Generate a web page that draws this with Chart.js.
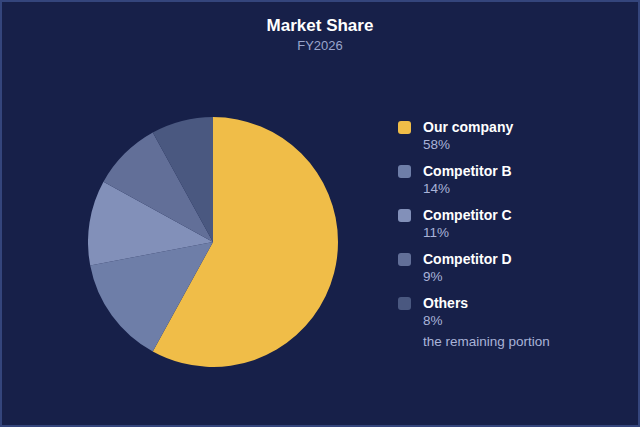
<!DOCTYPE html>
<html>
<head>
<meta charset="utf-8">
<script src="https://cdn.jsdelivr.net/npm/chart.js@4/dist/chart.umd.min.js"></script>
<style>
  html, body { margin: 0; padding: 0; }
  body { width: 640px; height: 427px; overflow: hidden; font-family: "Liberation Sans", Arial, sans-serif; }
  #frame { position: absolute; left: 0; top: 0; width: 636px; height: 423px; background: #172049; border: 2px solid #34457c; }
  #title { position: absolute; left: 0; width: 640px; top: 16px; text-align: center; color: #ffffff; font-weight: bold; font-size: 17px; }
  #subtitle { position: absolute; left: 0; width: 640px; top: 38px; text-align: center; color: #9aa5cc; font-size: 13px; }
  #pie { position: absolute; left: 88px; top: 117px; width: 250px; height: 250px; }
  #legend { position: absolute; left: 398px; top: 119px; }
  .item { position: relative; height: 44px; }
  .sw { position: absolute; left: 0; top: 2px; width: 13px; height: 13px; border-radius: 3px; }
  .lab { position: absolute; left: 25px; top: 0; color: #ffffff; font-weight: bold; font-size: 14px; white-space: nowrap; }
  .val { position: absolute; left: 25px; top: 18px; color: #a9b3d8; font-size: 13.5px; white-space: nowrap; }
  .note { position: absolute; left: 25px; top: 39px; color: #a9b3d8; font-size: 13.5px; white-space: nowrap; }
</style>
</head>
<body>
<div id="frame"></div>
<div id="title">Market Share</div>
<div id="subtitle">FY2026</div>
<div id="pie"><canvas id="c"></canvas></div>
<div id="legend"></div>
<script>
const categories = ["Our company", "Competitor B", "Competitor C", "Competitor D", "Others"];
const shares = [58, 14, 11, 9, 8];
const colors = ["#f0bd48", "#6e7ea8", "#8290b9", "#626f98", "#4a5880"];
const notes = ["", "", "", "", "the remaining portion"];

new Chart(document.getElementById("c"), {
  type: "pie",
  data: {
    labels: categories,
    datasets: [{ data: shares, backgroundColor: colors, borderWidth: 0 }]
  },
  options: {
    responsive: true,
    maintainAspectRatio: false,
    animation: false,
    layout: { padding: 0 },
    plugins: { legend: { display: false }, tooltip: { enabled: false } }
  }
});

const legend = document.getElementById("legend");
categories.forEach((name, i) => {
  const it = document.createElement("div");
  it.className = "item";
  const sw = document.createElement("div");
  sw.className = "sw"; sw.style.background = colors[i];
  const lab = document.createElement("div");
  lab.className = "lab"; lab.textContent = name;
  const val = document.createElement("div");
  val.className = "val"; val.textContent = shares[i] + "%";
  it.appendChild(sw); it.appendChild(lab); it.appendChild(val);
  if (notes[i]) {
    const n = document.createElement("div");
    n.className = "note"; n.textContent = notes[i];
    it.appendChild(n);
  }
  legend.appendChild(it);
});
</script>
</body>
</html>
